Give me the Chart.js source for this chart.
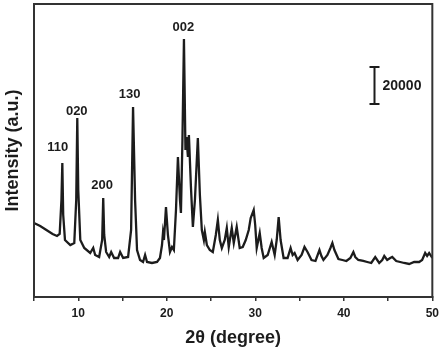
<!DOCTYPE html>
<html>
<head>
<meta charset="utf-8">
<script src="https://cdn.jsdelivr.net/npm/chart.js@4/dist/chart.umd.min.js"></script>
<style>
    body { margin: 0; background: #fff; }
    #xrd { display: block; }
</style>
</head>
<body>
<canvas id="xrd" width="444" height="353"></canvas>
<script>
// XRD pattern (counts, arbitrary baseline)
const twoTheta = [
    5.0, 5.7, 6.4, 7.1, 7.6, 7.9, 8.1, 8.2, 8.3, 8.5, 9.1, 9.55, 9.77, 9.89, 10.0,
    10.23, 10.68, 11.35, 11.69, 11.91, 12.36, 12.7, 12.82, 12.93, 13.15, 13.49, 13.72,
    14.05, 14.5, 14.73, 15.07, 15.63, 15.97, 16.19, 16.42, 16.64, 16.98, 17.32, 17.55,
    17.77, 18.33, 18.9, 19.23, 19.46, 19.57, 19.68, 19.91, 20.13, 20.36, 20.59, 20.8,
    21.04, 21.26, 21.49, 21.6, 21.77, 21.94, 22.11, 22.22, 22.39, 22.5, 22.73, 22.95,
    23.18, 23.51, 23.74, 23.96, 24.19, 24.3, 24.53, 24.86, 25.2, 25.54, 25.77, 25.99,
    26.22, 26.55, 26.78, 27.0, 27.34, 27.57, 27.9, 28.24, 28.58, 28.92, 29.26, 29.48,
    29.82, 29.99, 30.16, 30.5, 30.72, 30.95, 31.4, 31.85, 32.19, 32.42, 32.64, 32.86,
    33.2, 33.65, 33.99, 34.22, 34.44, 34.78, 35.23, 35.56, 35.9, 36.35, 36.8, 37.25,
    37.47, 37.7, 38.15, 38.49, 38.71, 38.94, 39.39, 39.84, 40.29, 40.74, 41.08, 41.3,
    41.64, 42.2, 42.65, 43.1, 43.55, 44.0, 44.34, 44.57, 44.9, 45.24, 45.47, 45.92,
    46.37, 46.82, 47.38, 47.95, 48.51, 48.85, 49.19, 49.41, 49.64, 50.0
];
const intensity = [
    39960, 38340, 36180, 34020, 32940, 34020, 52380, 72360, 44280, 30780, 28080, 29160, 52380, 96660, 57780,
    30780, 26460, 23760, 26460, 22680, 21600, 30780, 53460, 33480, 24300, 21600, 24300,
    21060, 21060, 24300, 21060, 21600, 36180, 102600, 52380, 25380, 19980, 18900, 22680,
    18900, 18360, 18900, 21060, 28080, 34560, 30780, 48600, 33480, 24300, 27000, 25380,
    46980, 75600, 52380, 45360, 84780, 139320, 79380, 86400, 75600, 87480, 59400, 37800,
    52380, 85860, 55080, 36180, 30780, 35100, 28080, 25380, 24300, 33480, 41580, 30780,
    26460, 30780, 37260, 27000, 37260, 29160, 37800, 26460, 27000, 30780, 36180, 42660,
    46980, 38880, 26460, 34560, 26460, 21060, 22680, 29700, 22680, 30780, 43200, 30780,
    21060, 21060, 26460, 22680, 23760, 19980, 22680, 27000, 24300, 19980, 19440, 25380,
    22140, 19980, 22680, 26460, 29160, 25380, 20520, 19980, 19440, 21060, 24300, 21600,
    19980, 19440, 18900, 18360, 21600, 18360, 19980, 22140, 19980, 21060, 21600, 19440,
    18900, 18360, 17820, 18900, 18900, 19980, 23760, 22140, 23760, 21060
];

// hkl labels: text, where the text sits (2θ) and the value of its bottom edge
const peakLabels = ['110', '020', '200', '130', '002'];
const peakLabelX = [7.69, 9.83, 12.7, 15.81, 21.88];
const peakLabelY = [77760, 97200, 57240, 106380, 142560];

// scale bar
const scaleBarValue = 20000;
const scaleBarX = 43.45;
const scaleBarTop = 124200;

const FONT = '"Liberation Sans", Arial, Helvetica, sans-serif';
const INK = '#1c1c1c';

const points = twoTheta.map((t, i) => ({ x: t, y: intensity[i] }));

const frameAndNotes = {
    id: 'frameAndNotes',
    afterDatasetsDraw(chart) {
        const ctx = chart.ctx;
        const area = chart.chartArea;
        const xs = chart.scales.x;
        const ys = chart.scales.y;
        ctx.save();

        // box around the plot
        ctx.strokeStyle = '#333';
        ctx.lineWidth = 2;
        ctx.strokeRect(area.left, area.top, area.right - area.left, area.bottom - area.top);

        // peak labels
        ctx.fillStyle = INK;
        ctx.font = 'bold 13px ' + FONT;
        ctx.textAlign = 'center';
        ctx.textBaseline = 'bottom';
        peakLabels.forEach(function(txt, i) {
            ctx.fillText(txt, xs.getPixelForValue(peakLabelX[i]), ys.getPixelForValue(peakLabelY[i]) + 1);
        });

        // 20000 scale bar
        const bx = Math.round(xs.getPixelForValue(scaleBarX)) + 0.5;
        const y1 = ys.getPixelForValue(scaleBarTop);
        const y2 = ys.getPixelForValue(scaleBarTop - scaleBarValue);
        ctx.strokeStyle = INK;
        ctx.lineWidth = 2;
        ctx.beginPath();
        ctx.moveTo(bx, y1);
        ctx.lineTo(bx, y2);
        ctx.moveTo(bx - 5, y1);
        ctx.lineTo(bx + 5, y1);
        ctx.moveTo(bx - 5, y2);
        ctx.lineTo(bx + 5, y2);
        ctx.stroke();
        ctx.font = 'bold 14px ' + FONT;
        ctx.textAlign = 'left';
        ctx.textBaseline = 'middle';
        ctx.fillText(String(scaleBarValue), bx + 8, (y1 + y2) / 2 + 1);

        ctx.restore();
    }
};

new Chart(document.getElementById('xrd'), {
    type: 'scatter',
    data: {
        datasets: [{
            data: points,
            showLine: true,
            borderColor: INK,
            borderWidth: 2.3,
            pointRadius: 0,
            tension: 0
        }]
    },
    options: {
        responsive: false,
        animation: false,
        layout: { padding: { top: 4, right: 11, left: 0, bottom: 0 } },
        plugins: {
            legend: { display: false },
            tooltip: { enabled: false }
        },
        scales: {
            x: {
                type: 'linear',
                min: 5,
                max: 50,
                afterFit: function(scale) { scale.height = 56; },
                border: { display: true, color: '#333', width: 2 },
                grid: {
                    drawOnChartArea: false,
                    drawTicks: true,
                    tickLength: 4,
                    color: '#333',
                    lineWidth: 1.5
                },
                ticks: {
                    stepSize: 5,
                    autoSkip: false,
                    maxRotation: 0,
                    padding: 5,
                    color: INK,
                    font: { family: FONT, size: 12, weight: 'bold' },
                    callback: function(v) { return v % 10 === 0 ? v : ''; }
                },
                title: {
                    display: true,
                    text: '2θ (degree)',
                    color: INK,
                    font: { family: FONT, size: 18, weight: 'bold' },
                    padding: { top: 8 }
                }
            },
            y: {
                min: 0,
                max: 158200,
                afterFit: function(scale) { scale.width = 34; },
                border: { display: true, color: '#333', width: 2 },
                grid: { display: false },
                ticks: { display: false },
                title: {
                    display: true,
                    text: 'Intensity (a.u.)',
                    color: INK,
                    font: { family: FONT, size: 18, weight: 'bold' },
                    padding: { top: 2, bottom: 0 }
                }
            }
        }
    },
    plugins: [frameAndNotes]
});
</script>
</body>
</html>
